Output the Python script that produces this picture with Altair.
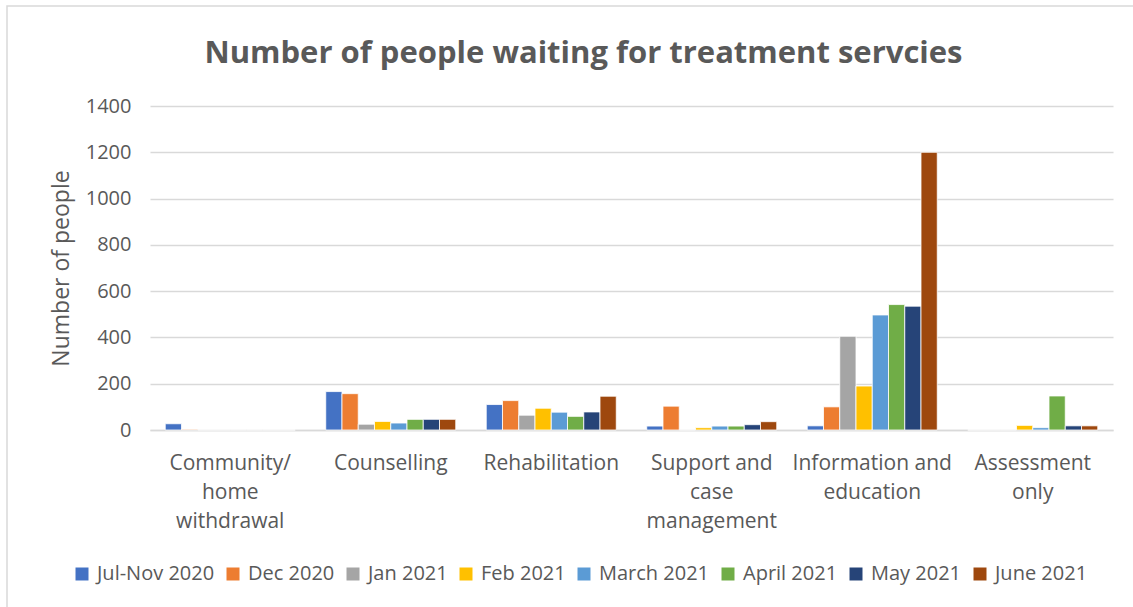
import altair as alt
import pandas as pd

categories = ["Community/|home|withdrawal", "Counselling", "Rehabilitation",
              "Support and|case|management", "Information and|education", "Assessment|only"]
series = ["Jul-Nov 2020", "Dec 2020", "Jan 2021", "Feb 2021",
          "March 2021", "April 2021", "May 2021", "June 2021"]
colors = ["#4472C4", "#ED7D31", "#A5A5A5", "#FFC000",
          "#5B9BD5", "#70AD47", "#264478", "#9E480E"]

# values per series, one per category (in category order)
jul_nov_2020 = [27, 166, 110, 17, 18, 0]
dec_2020 = [3, 157, 127, 103, 100, 0]
jan_2021 = [0, 25, 64, 0, 405, 0]
feb_2021 = [0, 37, 94, 10, 190, 20]
mar_2021 = [0, 30, 77, 17, 497, 10]
apr_2021 = [0, 46, 59, 17, 542, 147]
may_2021 = [0, 46, 78, 23, 535, 18]
jun_2021 = [0, 46, 146, 36, 1200, 18]

all_values = [jul_nov_2020, dec_2020, jan_2021, feb_2021,
              mar_2021, apr_2021, may_2021, jun_2021]

rows = []
for s, vals in zip(series, all_values):
    for c, v in zip(categories, vals):
        rows.append({"category": c, "series": s, "value": v})
df = pd.DataFrame(rows)

FONT = "Open Sans"
GREY = "#595959"

# chart-area outline (decorative)
frame = alt.Chart(pd.DataFrame({"k": [0]})).mark_rect(
    fill=None, stroke="#D9D9D9", strokeWidth=1.5
).encode(x=alt.value(-143), x2=alt.value(995), y=alt.value(-100), y2=alt.value(510))

bars = alt.Chart(df).mark_bar(stroke="white", strokeWidth=0.8).encode(
    x=alt.X("category:N", sort=categories,
            scale=alt.Scale(paddingInner=0.19, paddingOuter=0.095),
            axis=alt.Axis(title=None, labelAngle=0, labelExpr="split(datum.label, '|')",
                          labelFontSize=21, labelColor=GREY, labelFont=FONT,
                          labelLineHeight=29, labelPadding=22, labelLimit=200,
                          ticks=False, domainColor="#D9D9D9", domainWidth=1.5,
                          labelBaseline="top")),
    xOffset=alt.XOffset("series:N", sort=series),
    y=alt.Y("value:Q", scale=alt.Scale(domain=[0, 1400], nice=False),
            axis=alt.Axis(title="Number of people", values=list(range(0, 1401, 200)),
                          format="d",
                          labelFontSize=20, labelColor=GREY, labelFont=FONT,
                          labelPadding=19, ticks=False, domain=False,
                          gridColor="#D9D9D9", gridWidth=1.5,
                          titleFontSize=23, titleColor=GREY, titleFont=FONT,
                          titleFontWeight="normal", titlePadding=12)),
    color=alt.Color("series:N", sort=series,
                    scale=alt.Scale(domain=series, range=colors),
                    legend=alt.Legend(title=None, orient="none", direction="horizontal",
                                      legendX=-78, legendY=458,
                                      symbolType="square", symbolSize=169,
                                      symbolStrokeWidth=0,
                                      labelFontSize=20, labelColor=GREY, labelFont=FONT,
                                      columnPadding=8, labelOffset=5))
)

chart = alt.layer(frame, bars).properties(
    width=963, height=324,
    title=alt.TitleParams("Number of people waiting for treatment servcies",
                          fontSize=31, font=FONT, fontWeight="bold", color=GREY,
                          offset=-65, dx=-48),
    autosize=alt.AutoSizeParams(type="none"),
    padding={"left": 150, "top": 106, "right": 20, "bottom": 177},
).configure_view(stroke=None)

chart.save("out.html", embed_options={"renderer": "svg", "actions": False})
